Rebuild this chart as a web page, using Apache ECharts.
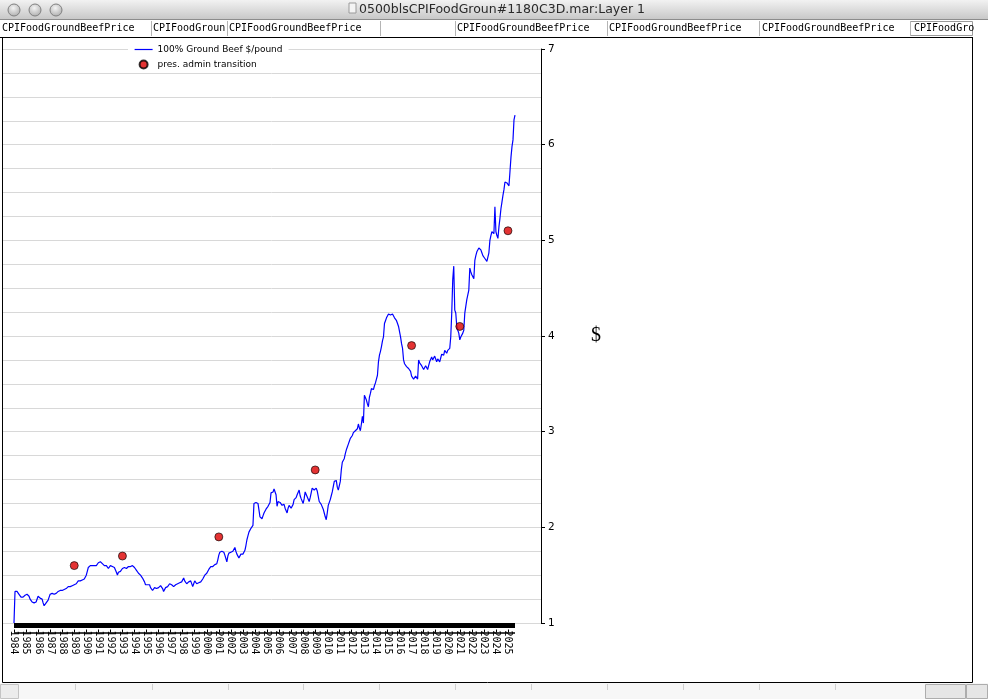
<!DOCTYPE html>
<html><head><meta charset="utf-8">
<script src="https://cdn.jsdelivr.net/npm/echarts@6/dist/echarts.min.js"></script>
<style>html,body{margin:0;padding:0;background:#fff}#c{width:988px;height:699px}</style>
</head><body><div id="c"></div>
<script>
// ---- data ----
const startYear = 1984; // monthly series, Jan 1984 .. Aug 2025
const beefPrices = [
1.00,1.33,1.34,1.33,1.32,1.30,1.28,1.27,1.26,1.27,1.29,1.29,
1.30,1.30,1.30,1.28,1.25,1.23,1.22,1.22,1.21,1.21,1.22,1.24,
1.28,1.27,1.26,1.25,1.25,1.21,1.18,1.19,1.21,1.22,1.24,1.27,
1.30,1.29,1.31,1.31,1.30,1.32,1.31,1.32,1.33,1.32,1.34,1.33,
1.34,1.33,1.35,1.34,1.36,1.36,1.38,1.36,1.38,1.40,1.39,1.41,
1.40,1.42,1.41,1.42,1.44,1.43,1.44,1.42,1.45,1.45,1.46,1.48,
1.50,1.54,1.58,1.59,1.60,1.59,1.60,1.60,1.60,1.61,1.60,1.62,
1.63,1.65,1.64,1.63,1.62,1.62,1.60,1.61,1.60,1.59,1.57,1.58,
1.60,1.59,1.59,1.57,1.58,1.56,1.53,1.50,1.53,1.55,1.54,1.56,
1.57,1.57,1.58,1.56,1.57,1.57,1.59,1.58,1.59,1.61,1.60,1.60,
1.58,1.57,1.55,1.53,1.52,1.51,1.50,1.48,1.47,1.46,1.43,1.40,
1.39,1.40,1.41,1.40,1.37,1.35,1.34,1.35,1.37,1.38,1.36,1.37,
1.37,1.38,1.39,1.40,1.36,1.33,1.35,1.37,1.36,1.38,1.40,1.41,
1.42,1.40,1.39,1.38,1.39,1.40,1.39,1.41,1.40,1.42,1.42,1.43,
1.45,1.47,1.44,1.43,1.41,1.42,1.43,1.44,1.44,1.42,1.38,1.41,
1.44,1.42,1.41,1.40,1.42,1.42,1.43,1.45,1.46,1.48,1.50,1.51,
1.52,1.54,1.56,1.55,1.59,1.58,1.59,1.61,1.61,1.63,1.62,1.66,
1.71,1.74,1.76,1.75,1.74,1.74,1.71,1.69,1.64,1.70,1.73,1.72,
1.74,1.75,1.75,1.77,1.79,1.75,1.72,1.71,1.68,1.70,1.72,1.71,
1.72,1.73,1.76,1.81,1.87,1.91,1.95,1.97,1.99,2.00,2.02,2.25,
2.25,2.26,2.24,2.25,2.18,2.11,2.09,2.09,2.12,2.15,2.17,2.19,
2.20,2.22,2.24,2.26,2.36,2.36,2.37,2.40,2.42,2.34,2.22,2.27,
2.28,2.26,2.24,2.23,2.25,2.24,2.20,2.18,2.15,2.20,2.23,2.21,
2.20,2.19,2.24,2.29,2.28,2.31,2.34,2.36,2.39,2.33,2.30,2.29,
2.25,2.30,2.37,2.35,2.32,2.30,2.27,2.31,2.36,2.41,2.40,2.39,
2.40,2.41,2.38,2.36,2.27,2.25,2.24,2.23,2.19,2.15,2.11,2.08,
2.15,2.23,2.25,2.29,2.33,2.37,2.37,2.48,2.48,2.49,2.42,2.39,
2.38,2.48,2.60,2.68,2.69,2.72,2.77,2.81,2.84,2.87,2.90,2.93,
2.93,2.96,2.99,3.00,3.01,3.02,3.03,3.08,3.04,3.01,3.08,3.16,
3.09,3.38,3.36,3.33,3.29,3.26,3.36,3.40,3.45,3.45,3.44,3.48,
3.51,3.55,3.59,3.73,3.80,3.84,3.89,3.95,3.99,4.13,4.16,4.19,
4.21,4.23,4.22,4.22,4.24,4.23,4.21,4.19,4.20,4.16,4.13,4.10,
4.08,3.99,3.92,3.87,3.75,3.71,3.70,3.68,3.67,3.66,3.65,3.63,
3.58,3.56,3.55,3.56,3.58,3.59,3.55,3.75,3.72,3.71,3.69,3.68,
3.65,3.67,3.69,3.67,3.65,3.69,3.73,3.75,3.78,3.75,3.73,3.79,
3.76,3.73,3.76,3.78,3.73,3.77,3.81,3.80,3.80,3.85,3.83,3.82,
3.85,3.87,3.87,3.99,4.24,4.59,4.73,4.27,4.24,4.10,4.06,4.03,
3.96,3.99,4.01,4.03,4.06,4.24,4.31,4.38,4.43,4.48,4.71,4.67,
4.64,4.62,4.60,4.79,4.84,4.88,4.90,4.92,4.94,4.90,4.87,4.84,
4.82,4.81,4.79,4.78,4.78,4.87,5.00,5.05,5.09,5.08,5.07,5.35,
5.09,5.05,5.02,5.14,5.23,5.33,5.40,5.47,5.53,5.61,5.63,5.60,
5.59,5.57,5.72,5.87,5.98,6.05,6.26,6.31
];
const transitionYears = [1989, 1993, 2001, 2009, 2017, 2021, 2025];
const transitionValues = [1.6, 1.7, 1.9, 2.6, 3.9, 4.1, 5.1];
const tickYears = [1984,1985,1986,1987,1988,1989,1990,1991,1992,1993,1994,1995,1996,1997,1998,1999,
  2000,2001,2002,2003,2004,2005,2006,2007,2008,2009,2010,2011,2012,2013,2014,2015,2016,2017,2018,2019,
  2020,2021,2022,2023,2024,2025,2025 + 7/12];
const tickLabels = ['1984','1985','1986','1987','1988','1989','1990','1991','1992','1993','1994','1995','1996','1997','1998','1999',
  '2000','2001','2002','2003','2004','2005','2006','2007','2008','2009','2010','2011','2012','2013','2014','2015','2016','2017','2018','2019',
  '2020','2021','2022','2023','2024','2025','2025 Aug'];
const yTickValues = [1, 2, 3, 4, 5, 6, 7];
const seriesName = '100% Ground Beef $/pound';
const dotsName = 'pres. admin transition';
const headerCells = [
  {x: 2, t: 'CPIFoodGroundBeefPrice'}, {x: 153, t: 'CPIFoodGroun'}, {x: 229, t: 'CPIFoodGroundBeefPrice'},
  {x: 457, t: 'CPIFoodGroundBeefPrice'}, {x: 609, t: 'CPIFoodGroundBeefPrice'}, {x: 762, t: 'CPIFoodGroundBeefPrice'},
  {x: 914, t: 'CPIFoodGro'}
];
const headerSeps = [151, 227, 380, 455, 607, 759, 910];
const windowTitle = '0500blsCPIFoodGroun#1180C3D.mar:Layer 1';

// ---- chart ----
const chart = echarts.init(document.getElementById('c'), null, {renderer: 'canvas'});
const xMin = startYear, xMax = startYear + (beefPrices.length - 1) / 12;
const lineData = beefPrices.map((v, i) => [startYear + i / 12, v]);
const dotData = transitionYears.map((y, i) => [y, transitionValues[i]]);
const mono = 'DejaVu Sans Mono';

const graphics = [
  {type: 'rect', z: 1, shape: {x: 0, y: 0, width: 988, height: 20},
   style: {fill: new echarts.graphic.LinearGradient(0, 0, 0, 1, [{offset: 0, color: '#f2f2f2'}, {offset: 1, color: '#c6c6c6'}])}},
  {type: 'line', z: 1, shape: {x1: 0, y1: 19.5, x2: 988, y2: 19.5}, style: {stroke: '#8c8c8c', lineWidth: 1}},
  {type: 'rect', z: 1, shape: {x: 349, y: 3, width: 7, height: 10}, style: {fill: '#f4f4f4', stroke: '#9a9a9a', lineWidth: 1}},
  {type: 'text', z: 1, x: 502, y: 10, style: {text: windowTitle, font: '12.5px "DejaVu Sans"', fill: '#2a2a2a', textAlign: 'center', textVerticalAlign: 'middle'}},
  {type: 'rect', z: 1, shape: {x: 973, y: 20, width: 15, height: 663}, style: {fill: '#fff'}},
  {type: 'rect', z: 1, shape: {x: 0, y: 683, width: 988, height: 16}, style: {fill: '#f7f7f7'}},
  {type: 'rect', z: 1, shape: {x: 925.5, y: 684.5, width: 40, height: 14}, style: {fill: '#e6e6e6', stroke: '#adadad'}},
  {type: 'rect', z: 1, shape: {x: 966.5, y: 684.5, width: 21, height: 14}, style: {fill: '#e6e6e6', stroke: '#adadad'}},
  {type: 'rect', z: 1, shape: {x: 0.5, y: 684.5, width: 18, height: 14}, style: {fill: '#ececec', stroke: '#c4c4c4'}},
  {type: 'rect', z: 1, shape: {x: 910.5, y: 21.5, width: 62, height: 14}, style: {fill: '#fff', stroke: '#9a9a9a'}},
  {type: 'line', z: 1, shape: {x1: 0, y1: 37.5, x2: 973, y2: 37.5}, style: {stroke: '#000', lineWidth: 1}},
  {type: 'rect', z: 1, shape: {x: 2.5, y: 37.5, width: 970, height: 645}, style: {fill: 'none', stroke: '#000', lineWidth: 1}}
];
[75, 152, 228, 303, 379, 455, 531, 607, 683, 759, 835].forEach(x => graphics.push(
  {type: 'line', z: 1, shape: {x1: x + 0.5, y1: 684, x2: x + 0.5, y2: 690}, style: {stroke: '#d0d0d0'}}));
[14, 35, 56].forEach(cx => graphics.push({type: 'circle', z: 1, shape: {cx: cx, cy: 10, r: 6},
  style: {fill: new echarts.graphic.RadialGradient(0.45, 0.35, 0.7, [{offset: 0, color: '#f4f4f4'}, {offset: 1, color: '#a8a8a8'}]), stroke: '#808080', lineWidth: 1}}));
headerSeps.forEach(x => graphics.push({type: 'line', z: 1, shape: {x1: x + 0.5, y1: 21, x2: x + 0.5, y2: 36}, style: {stroke: '#b4b4b4'}}));
headerCells.forEach(c => graphics.push({type: 'text', z: 2, x: c.x, y: 28.5,
  style: {text: c.t, font: '10px "' + mono + '"', fill: '#000', textVerticalAlign: 'middle'}}));

const option = {
  animation: false,
  backgroundColor: '#fff',
  graphic: graphics,
  legend: {
    left: 128, top: 43, orient: 'vertical', itemWidth: 18, itemHeight: 8, itemGap: 4,
    backgroundColor: '#fff', padding: [1, 6, 1, 6],
    textStyle: {fontSize: 9, fontFamily: 'DejaVu Sans', color: '#000', lineHeight: 11},
    data: [
      {name: seriesName, itemStyle: {opacity: 0, borderWidth: 0}, lineStyle: {width: 1.2, color: '#0000ff'}},
      {name: dotsName, icon: 'circle'}
    ]
  },
  grid: [
    {left: 14, top: 49, width: 501, height: 574},
    {left: 2, top: 49, width: 539, height: 574}
  ],
  xAxis: [
    {type: 'value', gridIndex: 0, min: xMin, max: xMax, position: 'bottom', offset: 2,
     axisLine: {show: true, onZero: false, lineStyle: {color: '#000', width: 5, cap: 'butt'}},
     axisTick: {show: false}, axisLabel: {show: false}, splitLine: {show: false}},
    {type: 'value', gridIndex: 0, min: xMin, max: xMax, position: 'bottom', offset: 9.5,
     axisLine: {show: true, onZero: false, lineStyle: {color: '#000', width: 1.5, cap: 'butt'}},
     axisTick: {show: true, inside: true, length: 3, customValues: tickYears, lineStyle: {color: '#000'}},
     axisLabel: {show: true, customValues: tickYears, rotate: -90, margin: -2, color: '#000',
       fontSize: 10, fontFamily: mono,
       formatter: v => { const i = tickYears.findIndex(t => Math.abs(t - v) < 1e-6); return i >= 0 ? tickLabels[i] : ''; }},
     splitLine: {show: false}},
    {type: 'value', gridIndex: 1, min: 0, max: 1, show: false}
  ],
  yAxis: [
    {type: 'value', gridIndex: 0, min: 1, max: 7, interval: 1, position: 'right', offset: 26,
     axisLine: {show: true, lineStyle: {color: '#000', width: 1}},
     axisTick: {show: true, length: 4, lineStyle: {color: '#000'}},
     axisLabel: {show: true, margin: 7, color: '#000', fontSize: 10.5, fontFamily: 'DejaVu Sans',
       formatter: v => yTickValues.indexOf(v) >= 0 ? String(v) : ''},
     splitLine: {show: false},
     name: '$', nameLocation: 'middle', nameRotate: 0, nameGap: 50,
     nameTextStyle: {fontFamily: 'Liberation Serif', fontSize: 20, color: '#000'}},
    {type: 'value', gridIndex: 1, min: 1, max: 7, interval: 0.25,
     axisLine: {show: false}, axisTick: {show: false}, axisLabel: {show: false},
     splitLine: {show: true, lineStyle: {color: '#d8d8d8', width: 1}}}
  ],
  series: [
    {name: seriesName, type: 'line', xAxisIndex: 0, yAxisIndex: 0, data: lineData,
     symbol: 'none', color: '#0000ff', lineStyle: {color: '#0000ff', width: 1.2}, clip: true, z: 3},
    {name: dotsName, type: 'scatter', xAxisIndex: 0, yAxisIndex: 0, data: dotData,
     symbol: 'circle', symbolSize: 8, color: '#dd0000',
     itemStyle: {color: '#dd0000', borderColor: '#000', borderWidth: 0.8}, z: 4}
  ]
};
chart.setOption(option);
</script></body></html>
